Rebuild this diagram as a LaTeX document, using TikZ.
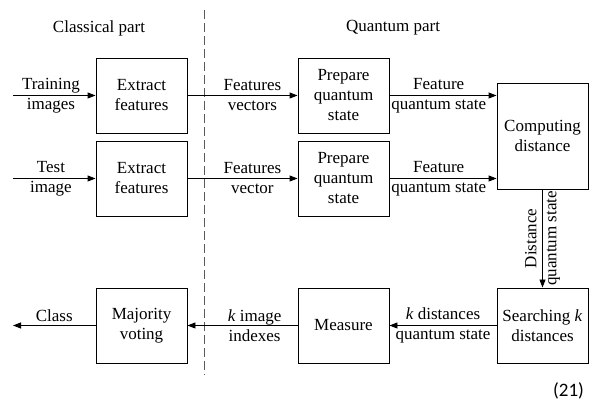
\documentclass[tikz,border=0pt]{standalone}
\usepackage{fontspec}
\setmainfont{Liberation Serif}
\newfontfamily\eqfont{Carlito}
\usetikzlibrary{arrows.meta}

\begin{document}
\begin{tikzpicture}[x=20pt,y=20pt,
  font=\fontsize{17}{20}\selectfont,
  blk/.style={draw,line width=0.9pt,minimum width=91pt,minimum height=75pt,align=center,inner sep=0pt},
  arr/.style={-{Triangle[length=8pt,width=6pt]},line width=0.9pt},
  lbl/.style={align=center,inner sep=0pt}]

\useasboundingbox (0,0) rectangle (29.9,20.15);

\node (classical) at (4.95,18.75) {Classical part};
\node (quantum) at (19.65,18.75) {Quantum part};

\coordinate (septop) at (10.2,19.65);
\coordinate (sepbot) at (10.2,1.4);
\draw[line width=0.8pt,dash pattern=on 9pt off 4pt,black!65] (septop) -- (sepbot);

\node[blk] (ext1) at (7.075,15.375) {Extract\\features};
\node[blk] (ext2) at (7.075,11.225) {Extract\\features};
\node[blk] (prep1) at (17.175,15.375) {Prepare\\quantum\\state};
\node[blk] (prep2) at (17.175,11.225) {Prepare\\quantum\\state};
\node[blk,minimum height=106pt] (dist) at (27.125,13.35) {Computing\\distance};
\node[blk] (srch) at (27.125,3.875) {Searching \textit{k}\\distances};
\node[blk] (meas) at (17.175,3.875) {Measure};
\node[blk] (vote) at (7.075,3.875) {Majority\\voting};

\coordinate (in1) at (0.65,15.375);
\coordinate (in2) at (0.65,11.225);
\coordinate (out) at (0.65,3.875);

\draw[arr] (in1) -- node[lbl,pos=0.46] {Training\\images} (ext1);
\draw[arr] (in2) -- node[lbl,pos=0.46] {Test\\image} (ext2);
\draw[arr] (ext1) -- node[lbl,pos=0.59] {Features\\vectors} (prep1);
\draw[arr] (ext2) -- node[lbl,pos=0.59] {Features\\vector} (prep2);
\draw[arr] (prep1) -- node[lbl,pos=0.46] {Feature\\quantum state} (prep1 -| dist.west);
\draw[arr] (prep2) -- node[lbl,pos=0.46] {Feature\\quantum state} (prep2 -| dist.west);
\draw[arr] (dist) -- node[lbl,rotate=90] {Distance\\quantum state} (srch);
\draw[arr] (srch) -- node[lbl] {\textit{k} distances\\quantum state} (meas);
\draw[arr] (meas) -- node[lbl,pos=0.39] {\textit{k} image\\indexes} (vote);
\draw[arr] (vote) -- node[above,inner sep=3pt] {Class} (out);

\node[font=\eqfont\fontsize{19}{22}\selectfont] (eqno) at (28.425,0.6) {(21)};
\end{tikzpicture}
\end{document}
